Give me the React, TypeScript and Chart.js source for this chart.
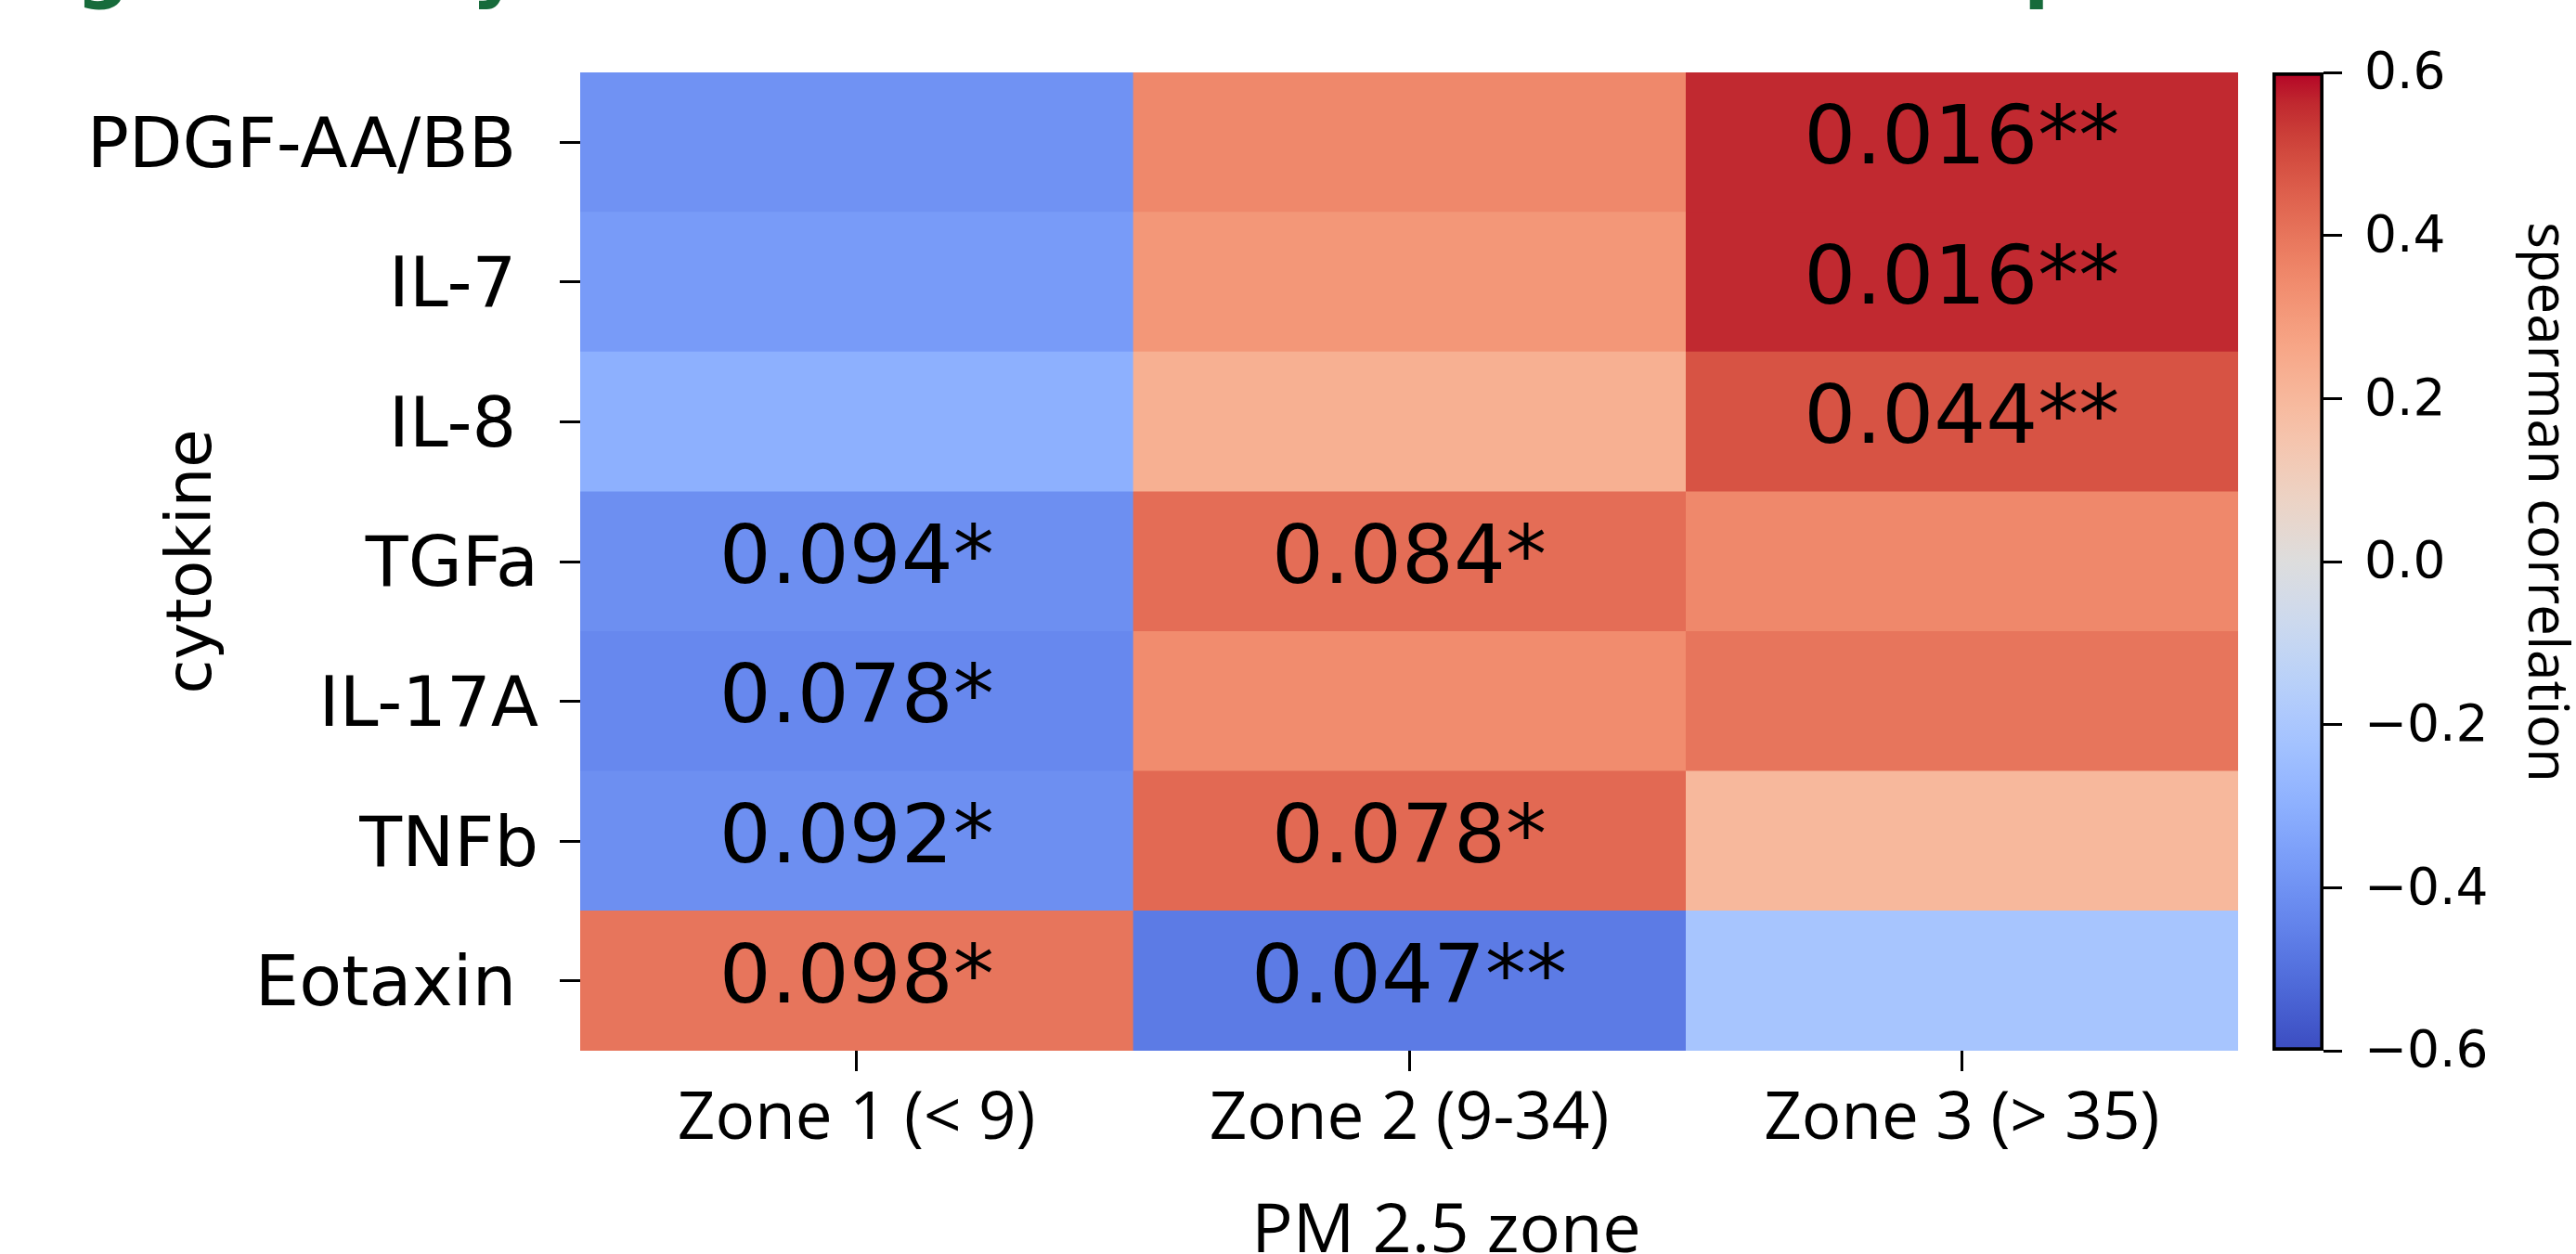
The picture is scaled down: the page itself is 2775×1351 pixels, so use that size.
import React, { useEffect, useRef } from 'react';
import { Chart, registerables } from 'chart.js';

Chart.register(...registerables);

// ---------- data ----------
// row labels as they appear (some carry a trailing space in the original figure)
const cytokines = ['PDGF-AA/BB ', 'IL-7 ', 'IL-8 ', 'TGFa', 'IL-17A', 'TNFb', 'Eotaxin '];
const zones = ['Zone 1 (< 9)', 'Zone 2 (9-34)', 'Zone 3 (> 35)'];

// spearman correlation per zone (coolwarm -0.6..0.6)
const zone1Rho = [-0.40, -0.37, -0.30, -0.41, -0.43, -0.41, 0.40];
const zone2Rho = [0.35, 0.31, 0.23, 0.42, 0.34, 0.43, -0.47];
const zone3Rho = [0.56, 0.56, 0.48, 0.35, 0.40, 0.20, -0.21];

// p-value annotations per zone
const zone1P = ['', '', '', '0.094*', '0.078*', '0.092*', '0.098*'];
const zone2P = ['', '', '', '0.084*', '', '0.078*', '0.047**'];
const zone3P = ['0.016**', '0.016**', '0.044**', '', '', '', ''];

// colour bar
const cbMin = -0.6;
const cbMax = 0.6;
const cbTicks = [-0.6, -0.4, -0.2, 0.0, 0.2, 0.4, 0.6];

const zoneRho = [zone1Rho, zone2Rho, zone3Rho];
const zoneP = [zone1P, zone2P, zone3P];

// matplotlib "coolwarm" (Moreland) lookup table
const COOLWARM: number[][] = [
  [59, 76, 192], [68, 90, 204], [77, 104, 215], [87, 117, 225], [98, 130, 234],
  [108, 142, 241], [119, 154, 247], [130, 165, 251], [141, 176, 254], [152, 185, 255],
  [163, 194, 255], [174, 201, 253], [184, 208, 249], [194, 213, 244], [204, 217, 238],
  [213, 219, 230], [221, 221, 221], [229, 216, 209], [236, 211, 197], [241, 204, 185],
  [245, 196, 173], [247, 187, 160], [247, 177, 148], [247, 166, 135], [244, 154, 123],
  [241, 141, 111], [236, 127, 99], [229, 112, 88], [222, 96, 77], [213, 80, 66],
  [203, 62, 56], [192, 40, 47], [180, 4, 38],
];

function coolwarmAt(t: number): string {
  const tt = Math.max(0, Math.min(1, t)) * (COOLWARM.length - 1);
  const i = Math.min(COOLWARM.length - 2, Math.floor(tt));
  const f = tt - i;
  const a = COOLWARM[i];
  const b = COOLWARM[i + 1];
  const c = a.map((v, k) => Math.round(v + (b[k] - v) * f));
  return `rgb(${c[0]},${c[1]},${c[2]})`;
}
function coolwarm(v: number): string {
  return coolwarmAt((v - cbMin) / (cbMax - cbMin));
}

const fmtTick = (v: number) => (v < -1e-9 ? '\u2212' : '') + Math.abs(v).toFixed(1);

// ---------- plugins ----------
const annotationPlugin = {
  id: 'cellAnnotations',
  afterDatasetsDraw(chart: any) {
    const { ctx, scales } = chart;
    const x = scales.x;
    const y = scales.y;
    ctx.save();
    ctx.font = '88px "DejaVu Sans"';
    ctx.fillStyle = '#000';
    ctx.textAlign = 'center';
    ctx.textBaseline = 'middle';
    zoneP.forEach((col, z) => {
      col.forEach((txt, r) => {
        if (!txt) return;
        ctx.fillText(txt, x.getPixelForValue(z + 0.5), y.getPixelForValue(r));
      });
    });
    ctx.restore();
  },
};

// bottoms of the cut-off green heading glyphs at the top edge
const headerPlugin = {
  id: 'cutHeader',
  afterDraw(chart: any) {
    const { ctx } = chart;
    ctx.save();
    ctx.font = 'bold 80px "DejaVu Sans"';
    ctx.fillStyle = '#176b3b';
    ctx.textAlign = 'left';
    ctx.textBaseline = 'alphabetic';
    ctx.fillText('g', 82, -7);
    ctx.fillText('y', 508, -7);
    ctx.fillText('p', 2180, -7);
    ctx.restore();
  },
};

const xTitlePlugin = {
  id: 'xTitle',
  afterDraw(chart: any) {
    const { ctx, chartArea } = chart;
    ctx.save();
    ctx.font = '74px "Open Sans"';
    ctx.fillStyle = '#000';
    ctx.textAlign = 'center';
    ctx.textBaseline = 'alphabetic';
    ctx.fillText('PM 2.5 zone', (chartArea.left + chartArea.right) / 2 + 40, chart.height - 2);
    ctx.restore();
  },
};

const cbLabelPlugin = {
  id: 'cbLabel',
  afterDraw(chart: any) {
    const { ctx, chartArea } = chart;
    ctx.save();
    ctx.translate(chartArea.right + 238, (chartArea.top + chartArea.bottom) / 2 - 64);
    ctx.rotate(Math.PI / 2);
    ctx.font = '60px "Open Sans"';
    ctx.fillStyle = '#000';
    ctx.textAlign = 'center';
    ctx.textBaseline = 'middle';
    ctx.fillText('spearman correlation', 0, 0);
    ctx.restore();
  },
};

export default function App() {
  const heatRef = useRef<HTMLCanvasElement | null>(null);
  const cbRef = useRef<HTMLCanvasElement | null>(null);

  useEffect(() => {
    if (!heatRef.current || !cbRef.current) return;
    Chart.defaults.font.family = '"DejaVu Sans"';
    Chart.defaults.color = '#000';

    const heat = new Chart(heatRef.current, {
      type: 'bar',
      data: {
        labels: cytokines,
        datasets: zoneRho.map((vals, z) => ({
          label: zones[z],
          data: vals.map(() => 1),
          backgroundColor: vals.map((v) => coolwarm(v)),
          borderWidth: 0,
          barPercentage: 1,
          categoryPercentage: 1,
        })),
      },
      options: {
        indexAxis: 'y',
        responsive: false,
        animation: false,
        devicePixelRatio: 1,
        events: [],
        layout: { padding: { top: 78, right: 364, bottom: 0, left: 0 } },
        plugins: {
          legend: { display: false },
          tooltip: { enabled: false },
          title: { display: false },
        },
        scales: {
          x: {
            type: 'linear',
            stacked: true,
            min: 0,
            max: zones.length,
            afterBuildTicks: (s: any) => {
              s.ticks = zones.map((_, i) => ({ value: i + 0.5 }));
            },
            afterFit: (s: any) => {
              s.height = 219;
            },
            ticks: {
              callback: (_v: any, i: number) => zones[i],
              font: { family: '"Open Sans"', size: 71 },
              color: '#000',
              padding: 10,
              maxRotation: 0,
              autoSkip: false,
            },
            grid: {
              drawOnChartArea: false,
              drawTicks: true,
              tickLength: 22,
              color: '#000',
              lineWidth: 3,
            },
            border: { display: false },
          },
          y: {
            type: 'category',
            stacked: true,
            afterFit: (s: any) => {
              s.width = 625;
            },
            ticks: {
              font: { family: '"DejaVu Sans"', size: 75 },
              color: '#000',
              padding: 23,
              labelOffset: 7,
              autoSkip: false,
            },
            grid: {
              offset: false,
              drawOnChartArea: false,
              drawTicks: true,
              tickLength: 22,
              color: '#000',
              lineWidth: 3,
            },
            border: { display: false },
            title: {
              display: true,
              text: 'cytokine',
              font: { family: '"DejaVu Sans"', size: 67 },
              color: '#000',
              padding: { top: 169, bottom: 0 },
            },
          },
        },
      },
      plugins: [annotationPlugin, headerPlugin, xTitlePlugin],
    } as any);

    const cb = new Chart(cbRef.current, {
      type: 'bar',
      data: {
        labels: [''],
        datasets: [
          {
            data: [[cbMin, cbMax]],
            backgroundColor: (c: any) => {
              const area = c.chart.chartArea;
              if (!area) return '#ddd';
              const g = c.chart.ctx.createLinearGradient(0, area.bottom, 0, area.top);
              COOLWARM.forEach((_, i) => g.addColorStop(i / (COOLWARM.length - 1), coolwarmAt(i / (COOLWARM.length - 1))));
              return g;
            },
            borderColor: '#000',
            borderWidth: 4,
            borderSkipped: false,
            barPercentage: 1,
            categoryPercentage: 1,
          },
        ],
      },
      options: {
        responsive: false,
        animation: false,
        devicePixelRatio: 1,
        events: [],
        layout: { padding: { top: 78, right: 0, bottom: 219, left: 2448 } },
        plugins: { legend: { display: false }, tooltip: { enabled: false } },
        scales: {
          x: { display: false },
          y: {
            type: 'linear',
            position: 'right',
            min: cbMin,
            max: cbMax,
            afterBuildTicks: (s: any) => {
              s.ticks = cbTicks.map((v) => ({ value: v }));
            },
            afterFit: (s: any) => {
              s.width = 272;
            },
            ticks: {
              callback: (v: any) => fmtTick(Number(v)),
              font: { family: '"DejaVu Sans"', size: 55 },
              color: '#000',
              padding: 24,
              labelOffset: 3,
            },
            grid: {
              drawOnChartArea: false,
              drawTicks: true,
              tickLength: 20,
              color: '#000',
              lineWidth: 3,
            },
            border: { display: false },
          },
        },
      },
      plugins: [cbLabelPlugin],
    } as any);

    return () => {
      heat.destroy();
      cb.destroy();
    };
  }, []);

  const canvasStyle: React.CSSProperties = {
    position: 'absolute',
    left: 0,
    top: 0,
    width: 2775,
    height: 1351,
  };

  return (
    <div style={{ position: 'absolute', left: 0, top: 0, width: 2775, height: 1351, background: '#fff' }}>
      <canvas ref={heatRef} width={2775} height={1351} style={canvasStyle} />
      <canvas ref={cbRef} width={2775} height={1351} style={{ ...canvasStyle, pointerEvents: 'none' }} />
    </div>
  );
}
